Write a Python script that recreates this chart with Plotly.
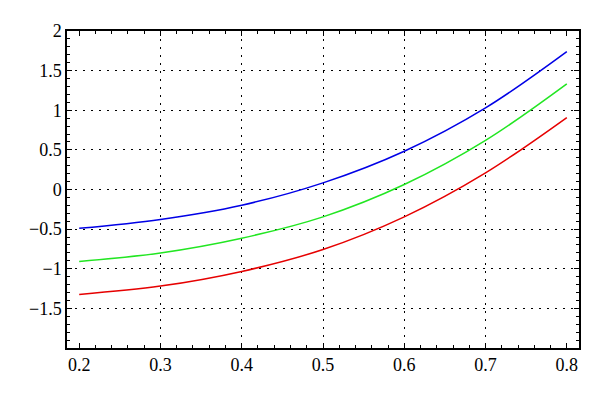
import plotly.graph_objects as go

x_vals = [0.2, 0.3, 0.4, 0.5, 0.6, 0.7, 0.8]
blue_vals = [-0.49, -0.378, -0.198, 0.084, 0.483, 1.03, 1.74]
green_vals = [-0.908, -0.80, -0.614, -0.345, 0.063, 0.62, 1.333]
red_vals = [-1.324, -1.219, -1.034, -0.757, -0.345, 0.21, 0.908]

x_ticks = [0.2, 0.3, 0.4, 0.5, 0.6, 0.7, 0.8]
x_tick_text = ["0.2", "0.3", "0.4", "0.5", "0.6", "0.7", "0.8"]
y_ticks = [-1.5, -1, -0.5, 0, 0.5, 1, 1.5, 2]
x_grid = [0.3, 0.4, 0.5, 0.6, 0.7]
y_grid = [-1.5, -1, -0.5, 0, 0.5, 1, 1.5]
x_minor = [round(0.2 + 0.02 * i, 2) for i in range(31)]
y_minor = [round(-2 + 0.1 * i, 1) for i in range(41)]

x_range = [0.185, 0.815]
y_range = [-2, 2]

fig = go.Figure()
for vals, col in [(blue_vals, "#0000e6"), (green_vals, "#22e622"), (red_vals, "#e60000")]:
    fig.add_trace(go.Scatter(x=x_vals, y=vals, mode="lines",
                             line=dict(color=col, width=1.5, shape="spline"),
                             showlegend=False, hoverinfo="skip"))

fig.add_trace(go.Scatter(x=[None], y=[None], xaxis="x2", yaxis="y2",
                         showlegend=False, hoverinfo="skip"))
fig.add_trace(go.Scatter(x=[None], y=[None], xaxis="x3", yaxis="y3",
                         showlegend=False, hoverinfo="skip"))

tf = dict(family="Liberation Serif", size=18, color="black")

fig.update_layout(
    width=600, height=397,
    margin=dict(l=59, r=29, t=23, b=57),
    paper_bgcolor="white", plot_bgcolor="white",
    font=tf,
    xaxis=dict(range=x_range, tickvals=x_ticks, ticktext=x_tick_text,
               ticks="inside", ticklen=5, tickcolor="black", tickwidth=1,
               showline=True, linecolor="black", linewidth=1.5, mirror="allticks",
               showgrid=False, zeroline=False, tickfont=tf),
    yaxis=dict(range=y_range, tickvals=y_ticks,
               ticks="inside", ticklen=5, tickcolor="black", tickwidth=1,
               showline=True, linecolor="black", linewidth=1.5, mirror="allticks",
               showgrid=False, zeroline=False, tickfont=tf),
    xaxis2=dict(range=x_range, overlaying="x", tickvals=x_grid, showticklabels=False,
                ticks="", showgrid=True, gridcolor="black", gridwidth=1,
                griddash="2px,6px", zeroline=False, showline=False),
    yaxis2=dict(range=y_range, overlaying="y", tickvals=y_grid, showticklabels=False,
                ticks="", showgrid=True, gridcolor="black", gridwidth=1,
                griddash="2px,6px", zeroline=False, showline=False),
    xaxis3=dict(range=x_range, overlaying="x", tickvals=x_minor, showticklabels=False,
                ticks="inside", ticklen=3, tickcolor="black", mirror="allticks",
                showline=False, showgrid=False, zeroline=False),
    yaxis3=dict(range=y_range, overlaying="y", tickvals=y_minor, showticklabels=False,
                ticks="inside", ticklen=3, tickcolor="black", mirror="allticks",
                showline=False, showgrid=False, zeroline=False),
)

fig.write_html("out.html")
